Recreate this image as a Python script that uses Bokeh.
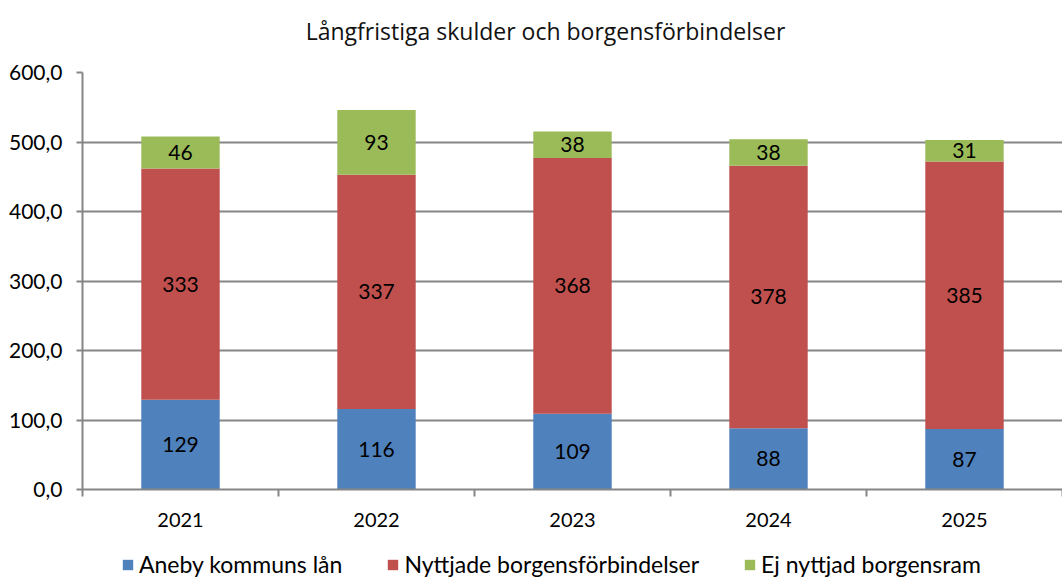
from bokeh.plotting import figure
from bokeh.layouts import column
from bokeh.models import (Range1d, FixedTicker, Legend, LegendItem, ColumnDataSource,
                          LabelSet, Label)
from bokeh.core.properties import value
from bokeh.embed import file_html
from bokeh.resources import INLINE

# ---- data ----
years = ["2021", "2022", "2023", "2024", "2025"]
aneby = [129, 116, 109, 88, 87]
nyttjade = [333, 337, 368, 378, 385]
ej_nyttjad = [46, 93, 38, 38, 31]
series_names = ["Aneby kommuns lån", "Nyttjade borgensförbindelser", "Ej nyttjad borgensram"]
colors = ["#4F81BD", "#C0504D", "#9BBB59"]
y_ticks = [0, 100, 200, 300, 400, 500, 600]
y_tick_labels = ["0,0", "100,0", "200,0", "300,0", "400,0", "500,0", "600,0"]
title_text = "Långfristiga skulder och borgensförbindelser"

FONT = "Lato"
GRAY = "#868686"
W = 1062
LEFT = 82
TITLE_H = 56
LEG_H = 33

xs = [i + 1 for i in range(len(years))]
series = [aneby, nyttjade, ej_nyttjad]
keys = ["aneby", "nyttjade", "ej"]
src = ColumnDataSource(dict(x=xs, aneby=aneby, nyttjade=nyttjade, ej=ej_nyttjad))


def blank(fig):
    fig.outline_line_color = None
    fig.background_fill_color = "white"
    fig.border_fill_color = "white"


# ---- title strip ----
tf = figure(width=W, height=TITLE_H, output_backend="svg", toolbar_location=None,
            x_range=Range1d(LEFT, W), y_range=Range1d(0, TITLE_H),
            x_axis_type=None, y_axis_type=None,
            min_border_left=LEFT, min_border_right=0, min_border_top=0, min_border_bottom=0)
blank(tf)
tf.add_layout(Label(x=545, y=TITLE_H - 30, text=title_text, text_align="center",
                    text_baseline="middle", text_font="Open Sans", text_font_size="23px",
                    text_color="#111111"))

# ---- main chart ----
p = figure(width=W, height=489, output_backend="svg", toolbar_location=None,
           x_range=Range1d(0.5, len(years) + 0.5), y_range=Range1d(0, 600),
           min_border_left=LEFT, min_border_right=0, min_border_top=16, min_border_bottom=56)
blank(p)

renderers = p.vbar_stack(keys, x="x", width=0.4, color=colors, line_color=None, source=src)

# data labels
lx, ly, lt = [], [], []
for i, x in enumerate(xs):
    base = 0
    for s in series:
        v = s[i]
        lx.append(x)
        ly.append(base + v / 2)
        lt.append(str(v))
        base += v
lab_src = ColumnDataSource(dict(x=lx, y=ly, t=lt))
labels = LabelSet(x="x", y="y", text="t", source=lab_src, text_align="center",
                  text_baseline="middle", text_font=value(FONT), text_font_size=value("21px"),
                  text_color="black")
p.add_layout(labels)

# axes
xa = p.xaxis[0]
xa.ticker = FixedTicker(ticks=xs, minor_ticks=[i + 0.5 for i in range(len(years) + 1)])
xa.major_label_overrides = {x: y for x, y in zip(xs, years)}
xa.major_tick_line_color = None
xa.major_tick_out = 0
xa.major_tick_in = 0
xa.minor_tick_line_color = GRAY
xa.minor_tick_line_width = 2
xa.minor_tick_out = 7
xa.minor_tick_in = 0
xa.axis_line_color = GRAY
xa.axis_line_width = 2
xa.major_label_standoff = 16
xa.major_label_text_font = FONT
xa.major_label_text_font_size = "20px"
xa.major_label_text_color = "black"

ya = p.yaxis[0]
ya.ticker = FixedTicker(ticks=y_ticks)
ya.major_label_overrides = {t: l for t, l in zip(y_ticks, y_tick_labels)}
ya.major_tick_line_color = GRAY
ya.major_tick_line_width = 2
ya.major_tick_out = 6
ya.major_tick_in = 0
ya.minor_tick_line_color = None
ya.axis_line_color = GRAY
ya.axis_line_width = 2
ya.major_label_standoff = 14
ya.major_label_text_font = FONT
ya.major_label_text_font_size = "21px"
ya.major_label_text_color = "black"

p.xgrid.grid_line_color = None
p.ygrid.grid_line_color = GRAY
p.ygrid.grid_line_width = 2

# ---- legend strip ----
lg = figure(width=W, height=LEG_H, output_backend="svg", toolbar_location=None,
            x_range=Range1d(0, 1), y_range=Range1d(0, 1), x_axis_type=None, y_axis_type=None,
            min_border_left=LEFT, min_border_right=0, min_border_top=0, min_border_bottom=0)
blank(lg)
dummy = [lg.vbar(x=[10], top=[1], width=0.1, color=c, line_color=None) for c in colors]
legend = Legend(items=[LegendItem(label=n, renderers=[r]) for n, r in zip(series_names, dummy)],
                orientation="horizontal", location=(121 - LEFT, 0),
                label_text_font=FONT, label_text_font_size="23px", label_text_color="black",
                glyph_width=13, glyph_height=13, label_standoff=5, spacing=44,
                padding=0, margin=0, border_line_color=None, background_fill_alpha=0)
lg.add_layout(legend, "center")

layout = column(tf, p, lg, spacing=0)
open("out.html", "w").write(file_html(layout, INLINE))
